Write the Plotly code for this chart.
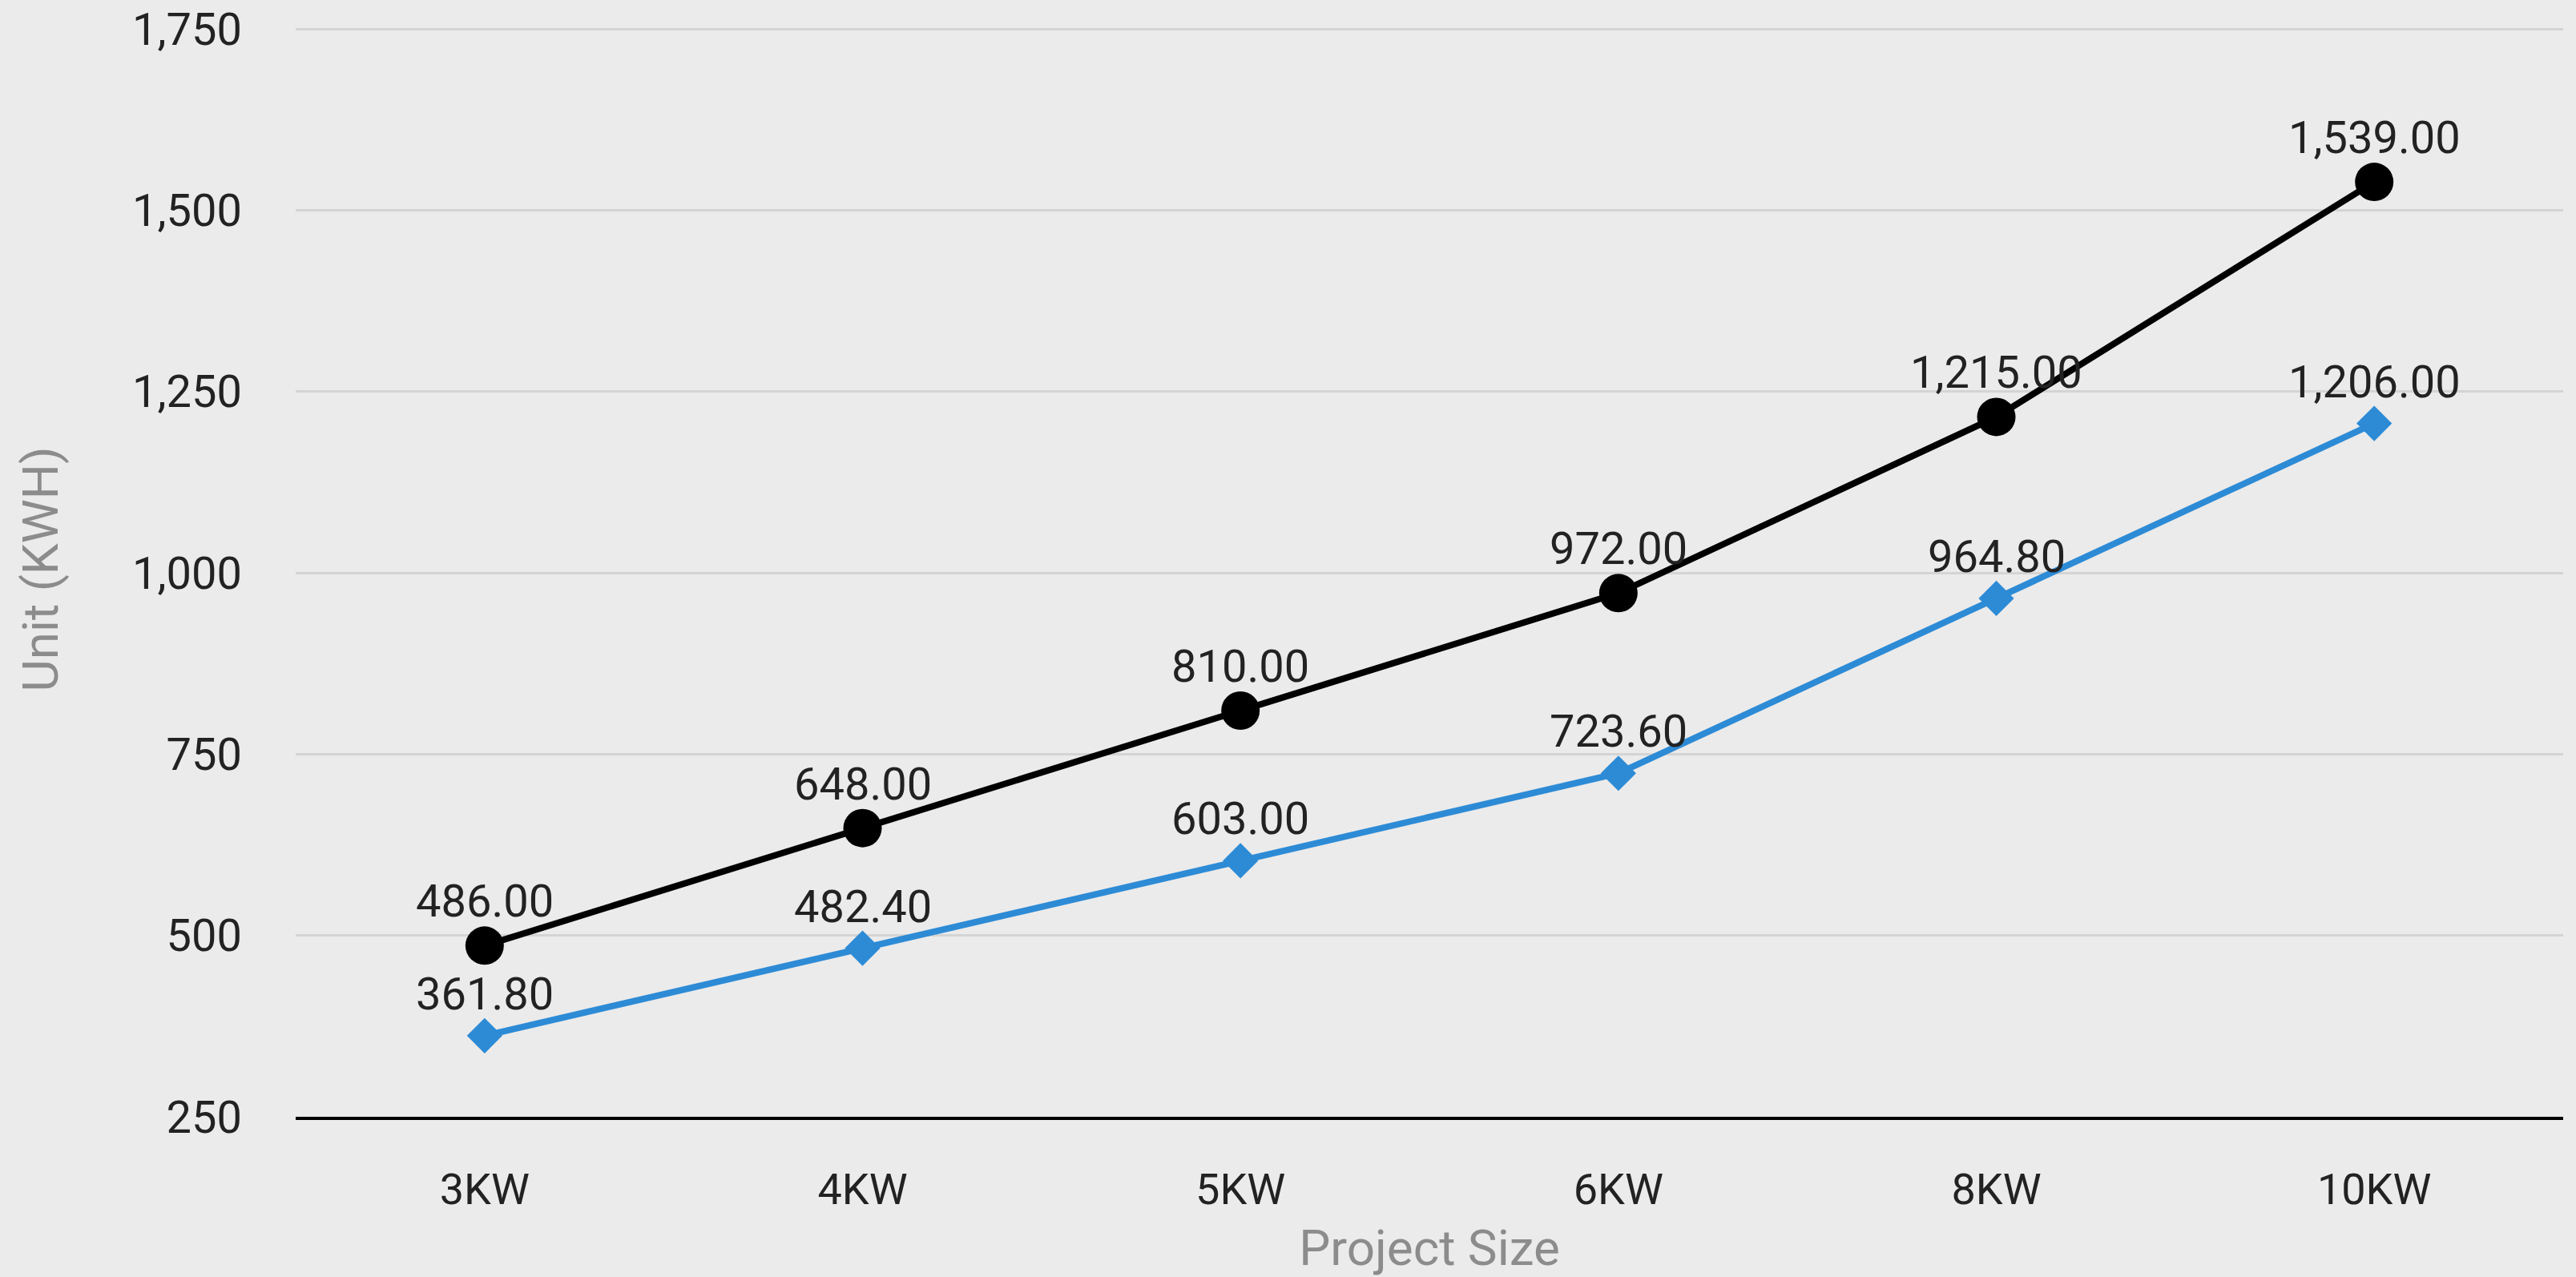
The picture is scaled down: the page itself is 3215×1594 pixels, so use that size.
import plotly.graph_objects as go

categories = ["3KW", "4KW", "5KW", "6KW", "8KW", "10KW"]
series_black = [486.00, 648.00, 810.00, 972.00, 1215.00, 1539.00]
series_blue = [361.80, 482.40, 603.00, 723.60, 964.80, 1206.00]
y_ticks = [250, 500, 750, 1000, 1250, 1500, 1750]
y_tick_labels = ["250", "500", "750", "1,000", "1,250", "1,500", "1,750"]

FONT = "Roboto"
TEXT_COLOR = "#222222"
TITLE_COLOR = "#8c8c8c"
BLUE = "#2d8bd6"

fig = go.Figure()

fig.add_trace(go.Scatter(
    x=categories, y=series_blue,
    mode="lines+markers",
    line=dict(color=BLUE, width=8),
    marker=dict(symbol="diamond", size=34, color=BLUE),
    showlegend=False,
    cliponaxis=False,
))

fig.add_trace(go.Scatter(
    x=categories, y=series_black,
    mode="lines+markers",
    line=dict(color="#000000", width=8),
    marker=dict(symbol="circle", size=48, color="#000000"),
    showlegend=False,
    cliponaxis=False,
))

annotations = []
for cat, val in zip(categories, series_blue):
    annotations.append(dict(
        x=cat, y=val, xref="x", yref="y", text=f"{val:,.2f}",
        showarrow=False, yanchor="bottom", xanchor="center", yshift=17,
        font=dict(family=FONT, size=56, color=TEXT_COLOR),
    ))
for cat, val in zip(categories, series_black):
    annotations.append(dict(
        x=cat, y=val, xref="x", yref="y", text=f"{val:,.2f}",
        showarrow=False, yanchor="bottom", xanchor="center", yshift=20,
        font=dict(family=FONT, size=56, color=TEXT_COLOR),
    ))

fig.update_layout(
    width=3215, height=1594,
    margin=dict(l=369, r=16, t=27, b=200, autoexpand=False),
    paper_bgcolor="#ebebeb",
    plot_bgcolor="rgba(0,0,0,0)",
    font=dict(family=FONT, size=56, color=TEXT_COLOR),
    annotations=annotations,
    xaxis=dict(
        type="category",
        categoryorder="array", categoryarray=categories,
        range=[-0.5, 5.5],
        showgrid=False,
        showline=True, linecolor="#000000", linewidth=4,
        ticks="",
        tickfont=dict(family=FONT, size=54, color=TEXT_COLOR),
        ticklabelstandoff=40,
        title=dict(text="Project Size", font=dict(family=FONT, size=62, color=TITLE_COLOR), standoff=30),
        zeroline=False,
    ),
    yaxis=dict(
        range=[250, 1760],
        tickvals=y_ticks, ticktext=y_tick_labels,
        showgrid=True, gridcolor="#d4d4d4", gridwidth=3,
        showline=False, zeroline=False,
        ticks="",
        tickfont=dict(family=FONT, size=56, color=TEXT_COLOR),
        ticklabelstandoff=66,
        ticklabeloverflow="allow",
        title=dict(text="Unit (KWH)", font=dict(family=FONT, size=62, color=TITLE_COLOR), standoff=72),
    ),
)

fig.write_html("out.html")
